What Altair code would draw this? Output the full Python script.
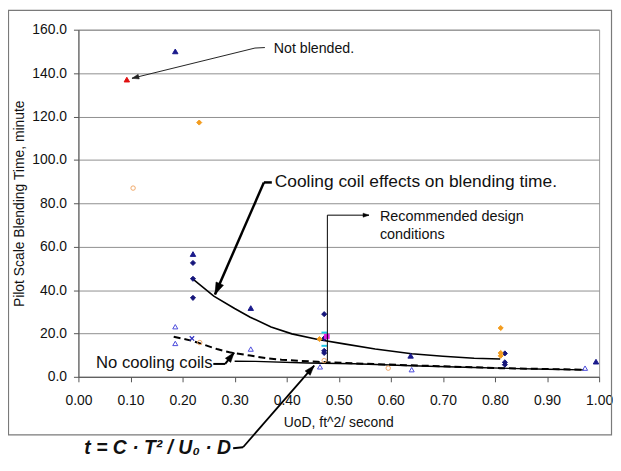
import math
import altair as alt
import pandas as pd

# ---------------- data ----------------
red_tri_x = [0.093]
red_tri_y = [137.0]

navy_tri_x = [0.186, 0.220, 0.331, 0.638, 0.994]
navy_tri_y = [150.0, 56.6, 31.7, 9.7, 7.0]

navy_dia_x = [0.220, 0.220, 0.220, 0.472, 0.472, 0.472, 0.472, 0.819, 0.819, 0.819]
navy_dia_y = [52.5, 45.2, 36.4, 28.9, 17.7, 12.0, 11.0, 10.8, 6.7, 5.6]

open_tri_x = [0.186, 0.186, 0.331, 0.464, 0.640, 0.973]
open_tri_y = [23.1, 15.4, 12.8, 4.6, 3.3, 4.0]

orange_x = [0.232, 0.463, 0.811, 0.811, 0.811]
orange_y = [117.2, 17.4, 22.5, 11.0, 9.7]

orange_open_x = [0.105, 0.233, 0.472, 0.595]
orange_open_y = [87.0, 15.8, 7.5, 4.0]

magenta_x = [0.477]
magenta_y = [18.6]

cyan_x = [0.472, 0.472]
cyan_y = [20.4, 14.3]

xmark_x = [0.218]
xmark_y = [17.7]

coil_x = [0.22, 0.26, 0.30, 0.33, 0.37, 0.41, 0.46, 0.51, 0.57, 0.64, 0.70, 0.76, 0.81]
coil_y = [45.0, 37.2, 31.5, 27.5, 23.0, 19.8, 17.2, 15.2, 12.8, 10.6, 9.5, 8.6, 8.2]

nocoil_x = [0.183, 0.22, 0.266, 0.29, 0.33, 0.36, 0.39, 0.46, 0.53, 0.64, 0.76, 0.81, 0.90, 0.97]
nocoil_y = [18.5, 16.5, 12.8, 11.3, 9.8, 8.6, 7.9, 6.9, 6.2, 5.3, 4.4, 4.0, 3.6, 3.3]

formula_x = [0.30, 0.34, 0.44, 0.53, 0.64, 0.76, 0.81, 0.90, 0.97]
formula_y = [7.2, 7.1, 6.4, 6.0, 5.1, 4.3, 4.0, 3.5, 3.2]

x_ticks = [i / 10 for i in range(11)]
y_ticks = list(range(0, 161, 20))

FONT = "Liberation Sans"
TXT = "#111111"

xscale = alt.Scale(domain=[0, 1], nice=False, zero=False)
yscale = alt.Scale(domain=[0, 160], nice=False, zero=False)


def df(xs, ys):
    return pd.DataFrame({"x": xs, "y": ys})


x_axis = alt.Axis(
    values=x_ticks, format=".2f", grid=False, tickSize=5, labelPadding=12,
    labelFontSize=14, labelFont=FONT, labelColor=TXT, labelFlush=False,
    domainColor="#555555", tickColor="#555555",
    title="UoD, ft^2/ second", titleFont=FONT, titleFontSize=14,
    titleFontWeight="normal", titleColor=TXT, titleX=262, titleY=46,
    titleAlign="center", titleBaseline="middle",
)
y_axis = alt.Axis(
    values=y_ticks, format=".1f", grid=True, gridColor="#8f8f8f", gridWidth=1,
    tickSize=5, labelPadding=7, labelFontSize=14, labelFont=FONT,
    labelColor=TXT, labelFlush=False, domainColor="#555555", tickColor="#555555",
    title="Pilot Scale Blending Time, minute", titleFont=FONT, titleFontSize=14,
    titleFontWeight="normal", titleColor=TXT, titleAngle=270, titleX=-59,
    titleY=175, titleAlign="center", titleBaseline="middle",
)


def XE():
    return alt.X("x:Q", scale=xscale, axis=x_axis)


def YE():
    return alt.Y("y:Q", scale=yscale, axis=y_axis)


one = pd.DataFrame({"k": [0]})
layers = []

# outer border of the figure
layers.append(
    alt.Chart(one).mark_rect(filled=False, stroke="#7a7a7a", strokeWidth=1.2).encode(
        x=alt.value(-70.5), x2=alt.value(537.5), y=alt.value(-19.5), y2=alt.value(408.5)
    )
)

# curves
layers.append(
    alt.Chart(df(coil_x, coil_y)).mark_line(color="black", strokeWidth=1.6).encode(x=XE(), y=YE())
)
layers.append(
    alt.Chart(df(formula_x, formula_y)).mark_line(color="black", strokeWidth=1.4).encode(x=XE(), y=YE())
)
layers.append(
    alt.Chart(df(nocoil_x, nocoil_y)).mark_line(color="black", strokeWidth=2, strokeDash=[7, 4]).encode(
        x=XE(), y=YE()
    )
)


def pts(xs, ys, shape, color, filled=True, size=28, sw=1.0):
    kw = dict(shape=shape, size=size, strokeWidth=sw, opacity=1)
    if filled:
        kw.update(filled=True, fill=color, stroke=color)
    else:
        kw.update(filled=False, stroke=color)
    return alt.Chart(df(xs, ys)).mark_point(**kw).encode(x=XE(), y=YE())


layers += [
    pts(open_tri_x, open_tri_y, "triangle-up", "#4b4bdc", filled=False, size=26, sw=1),
    pts(orange_open_x, orange_open_y, "circle", "#f0a868", filled=False, size=20, sw=1),
    pts(navy_tri_x, navy_tri_y, "triangle-up", "#1a1a8c", size=30),
    pts(navy_dia_x, navy_dia_y, "diamond", "#15157a", size=26),
    pts(red_tri_x, red_tri_y, "triangle-up", "#e01010", size=30),
    pts(orange_x, orange_y, "diamond", "#f39c1e", size=26),
    pts(magenta_x, magenta_y, "square", "#e020e0", size=22),
    pts(cyan_x, cyan_y, "stroke", "#20c8e8", filled=False, size=30, sw=2),
    pts(xmark_x, xmark_y, "M-1,-1L1,1M-1,1L1,-1", "#3030c0", filled=False, size=20, sw=1.2),
]

# ---------------- annotations (pixel positions) ----------------
HEAD = "M0,0L-0.34,1L0.34,1Z"


def arrow(path, width, head_len, color="black"):
    out = []
    for (x1, y1), (x2, y2) in zip(path[:-1], path[1:]):
        out.append(
            alt.Chart(one).mark_rule(color=color, strokeWidth=width).encode(
                x=alt.value(x1), y=alt.value(y1), x2=alt.value(x2), y2=alt.value(y2)
            )
        )
    (ax, ay), (bx, by) = path[-2], path[-1]
    ang = math.degrees(math.atan2(bx - ax, -(by - ay))) % 360
    out.append(
        alt.Chart(one).mark_point(shape=HEAD, filled=True, fill=color, stroke=color,
                                  strokeWidth=0.5, opacity=1).encode(
            x=alt.value(bx), y=alt.value(by), angle=alt.value(ang),
            size=alt.value((2 * head_len) ** 2),
        )
    )
    return out


def label(txt, x, y, size, weight="normal", style="normal"):
    return alt.Chart(one).mark_text(
        text=txt, align="left", baseline="middle", fontSize=size, font=FONT,
        fontWeight=weight, fontStyle=style, color=TXT,
    ).encode(x=alt.value(x), y=alt.value(y))


layers += arrow([(188, 18), (178, 18.5), (54, 49)], 1, 7, "#222222")
layers += arrow([(195, 154), (187, 154), (137.7, 267)], 2.5, 12)
layers += arrow([(251, 334), (251, 187), (293, 187)], 1, 6)
layers += arrow([(136, 337), (148, 337), (157, 325.5)], 2, 10)
layers += arrow([(156, 422), (166, 421), (237.7, 338.7)], 1.8, 10)

layers += [
    label("Not blended.", 197, 19, 14.3),
    label("Cooling coil effects on blending time.", 198, 154, 17.5),
    label("Recommended design", 304, 188.7, 14.5),
    label("conditions", 304, 207, 14.5),
    label("No cooling coils", 17.7, 336.3, 16.8),
    label("t = C \u00b7 T\u00b2 / U\u2080 \u00b7 D", 6, 422, 19.5, "bold", "italic"),
]

chart = (
    alt.layer(*layers)
    .properties(
        width=525, height=350,
        padding={"left": 71, "top": 20, "right": 14, "bottom": 85},
        autosize=alt.AutoSizeParams(type="none"),
        background="white",
    )
    .configure_view(stroke="#9a9a9a", strokeWidth=1)
)

chart.save("out.html", embed_options={"renderer": "svg", "actions": False})
